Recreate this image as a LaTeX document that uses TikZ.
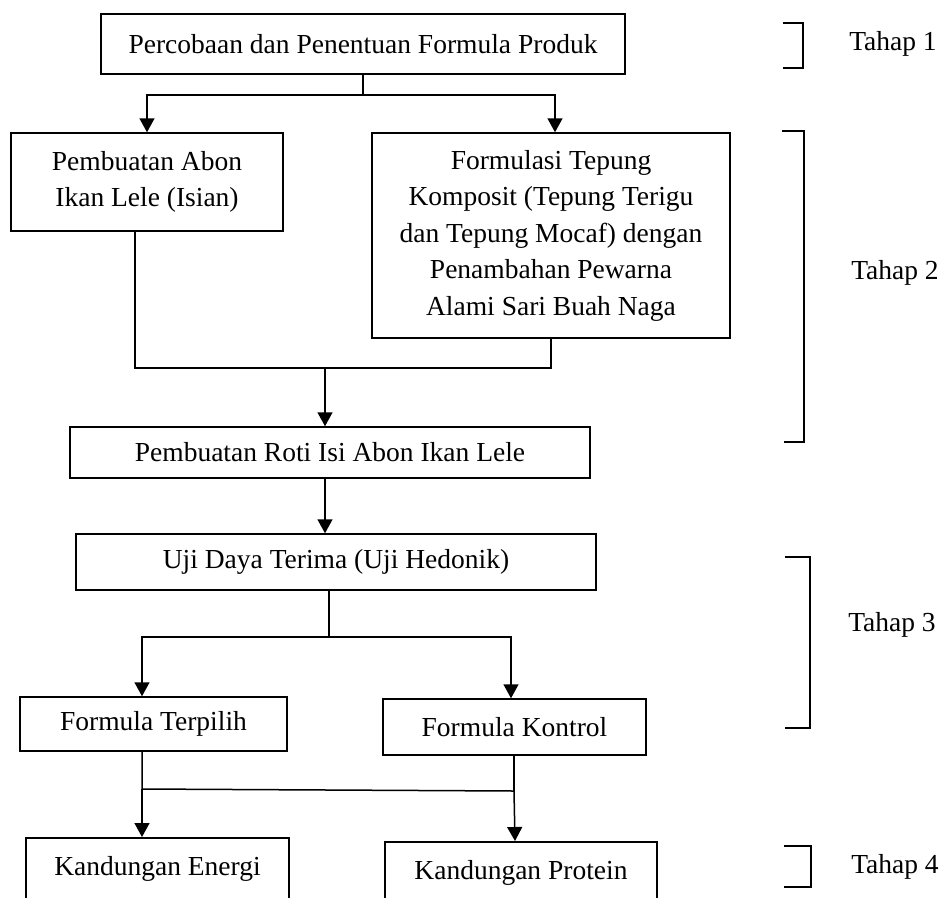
\documentclass[tikz,border=0pt]{standalone}
\usepackage{fontspec}
\setmainfont{Liberation Serif}
\usetikzlibrary{arrows.meta}
\begin{document}
\begin{tikzpicture}[x=1pt,y=-1pt,
  line width=1.5pt,
  every node/.style={font=\fontsize{27.5pt}{36.5pt}\selectfont},
  stepbox/.style={draw, align=center, inner sep=0pt},
  openbox/.style={stepbox, anchor=north, text height=20pt, text depth=60pt, inner ysep=18pt},
  arr/.style={-{Triangle[length=14pt,width=15pt]}},
  stage/.style={inner sep=0pt}]
\useasboundingbox (0,0) rectangle (944,897);
\begin{scope}
\clip (0,0) rectangle (944,897);

% process steps
\node[stepbox, minimum width=524pt, minimum height=60pt] (p1) at (363,44)
  {Percobaan dan Penentuan Formula Produk};
\node[stepbox, minimum width=272pt, minimum height=98pt] (abon) at (147,182)
  {Pembuatan Abon\\Ikan Lele (Isian)};
\node[stepbox, minimum width=358pt, minimum height=205pt] (formulasi) at (551,235.5)
  {Formulasi Tepung\\Komposit (Tepung Terigu\\dan Tepung Mocaf) dengan\\Penambahan Pewarna\\Alami Sari Buah Naga};
\node[stepbox, minimum width=520pt, minimum height=51pt] (roti) at (330,452.5)
  {Pembuatan Roti Isi Abon Ikan Lele};
\node[stepbox, minimum width=520pt, minimum height=56pt] (uji) at (336,562)
  {Uji Daya Terima (Uji Hedonik)};
\node[stepbox, minimum width=267pt, minimum height=54pt] (terpilih) at (153.5,724)
  {Formula Terpilih};
\node[stepbox, minimum width=263pt, minimum height=56pt] (kontrol) at (514.5,727)
  {Formula Kontrol};
\node[openbox, minimum width=263pt] (energi) at (157.5,837) {Kandungan Energi};
\node[openbox, minimum width=272pt] (protein) at (521,841) {Kandungan Protein};

% junction points of the connectors
\coordinate (j1) at (363,95);
\coordinate (j1r) at (555,95);
\coordinate (j2l) at (135,368);
\coordinate (j2) at (325,368);
\coordinate (j3) at (329,637);
\coordinate (j3l) at (142,637);
\coordinate (j3r) at (511,637);
\coordinate (j4l) at (142,789);
\coordinate (j4r) at (514,791);

% connectors
\draw (p1.south) -- (j1);
\draw[arr] (j1) -| (abon.north);
\draw[arr] (j1) -- (j1r) -- (j1r |- formulasi.north);
\draw (j2l |- abon.south) -- (j2l) -| (formulasi.south);
\draw[arr] (j2) -- (j2 |- roti.north);
\draw[arr] (j2 |- roti.south) -- (j2 |- uji.north);
\draw (j3 |- uji.south) -- (j3);
\draw[arr] (j3) -| (j3l |- terpilih.north);
\draw[arr] (j3) -| (j3r |- kontrol.north);
\draw (j4l |- terpilih.south) -- (j4l) -- (j4r);
\draw (j4r |- kontrol.south) -- (j4r);
\draw[arr] (j4l) -- (j4l |- energi.north);
\draw[arr] (j4r) -- ([xshift=1pt]j4r |- protein.north);

% stage labels with their brackets
\node[stage] (t1) at (893,44) {Tahap 1};
\draw (783,23) -- (803,23) -- (803,68) -- (783,68);
\node[stage] (t2) at (895,273) {Tahap 2};
\draw (782,131) -- (804,131) -- (804,442) -- (784,442);
\node[stage] (t3) at (892,625) {Tahap 3};
\draw (785,557) -- (810,557) -- (810,728) -- (785,728);
\node[stage] (t4) at (895,867) {Tahap 4};
\draw (784,846) -- (811,846) -- (811,887) -- (784,887);
\end{scope}
\end{tikzpicture}
\end{document}
